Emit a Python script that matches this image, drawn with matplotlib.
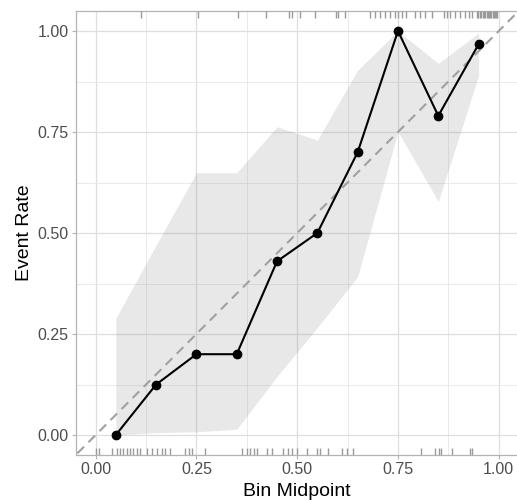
import numpy as np
import matplotlib
matplotlib.use('Agg')
import matplotlib.pyplot as plt
import matplotlib.transforms as mtransforms

plt.rcParams['font.family'] = ['Liberation Sans', 'DejaVu Sans']

# binned calibration data
bin_mid = [0.05, 0.15, 0.25, 0.35, 0.45, 0.55, 0.65, 0.75, 0.85, 0.95]
event_rate = [0.0, 0.125, 0.20, 0.20, 0.43, 0.50, 0.70, 1.0, 0.79, 0.967]
ci_low = [0.0, 0.006, 0.008, 0.014, 0.145, 0.266, 0.392, 0.751, 0.578, 0.89]
ci_high = [0.289, 0.47, 0.649, 0.649, 0.763, 0.730, 0.903, 1.0, 0.92, 0.995]

# predicted probabilities of observations with outcome 1 (top rug) and 0 (bottom rug)
events = [0.112, 0.255, 0.352, 0.423, 0.479, 0.488, 0.507, 0.544, 0.596, 0.602,
          0.619, 0.681, 0.693, 0.705, 0.718, 0.730, 0.743, 0.750, 0.759, 0.770,
          0.792, 0.805, 0.817, 0.834, 0.863, 0.871, 0.879, 0.891, 0.904, 0.916,
          0.925, 0.933, 0.945, 0.949, 0.953, 0.956, 0.960, 0.963, 0.967, 0.970,
          0.973, 0.976, 0.979, 0.982, 0.985, 0.988, 0.991, 0.994, 0.996]
non_events = [0.001, 0.008, 0.040, 0.053, 0.060, 0.068, 0.078, 0.085, 0.093, 0.102,
              0.110, 0.127, 0.140, 0.152, 0.165, 0.172, 0.184, 0.222, 0.232, 0.239,
              0.271, 0.363, 0.375, 0.383, 0.393, 0.400, 0.425, 0.437, 0.465, 0.477,
              0.487, 0.500, 0.524, 0.549, 0.557, 0.577, 0.611, 0.623, 0.638, 0.807,
              0.842, 0.852, 0.857, 0.884, 0.929, 0.934]

ticks = [0.0, 0.25, 0.5, 0.75, 1.0]
tick_labels = ['0.00', '0.25', '0.50', '0.75', '1.00']

fig = plt.figure(figsize=(5.17, 5.0), dpi=100)
# panel runs a bit past the right edge of the image, as in the reference
ax = fig.add_axes([75.5 / 517, 1 - 455.2 / 500, 443.4 / 517, 444.4 / 500])

ax.set_xlim(-0.05, 1.05)
ax.set_ylim(-0.05, 1.05)

# grid (theme_light look)
ax.set_xticks(ticks)
ax.set_yticks(ticks)
ax.set_xticks([0.125, 0.375, 0.625, 0.875], minor=True)
ax.set_yticks([0.125, 0.375, 0.625, 0.875], minor=True)
ax.grid(True, which='major', color='#dedede', lw=0.9)
ax.grid(True, which='minor', color='#e6e6e6', lw=0.6)
ax.set_axisbelow(True)

ax.fill_between(bin_mid, ci_low, ci_high, color='#8c8c8c', alpha=0.2, lw=0, zorder=2)
ax.plot([-0.1, 1.1], [-0.1, 1.1], color='#a0a0a0', lw=1.5, ls=(0, (4.5, 3)), zorder=3)
ax.plot(bin_mid, event_rate, color='black', lw=1.5, zorder=4)
ax.scatter(bin_mid, event_rate, s=36, color='black', zorder=5)

# rugs
trans = mtransforms.blended_transform_factory(ax.transData, ax.transAxes)
rug_len = 7 / 444.4
ax.vlines(events, 1 - rug_len, 1, transform=trans, color='#9a9a9a', lw=1.0, zorder=3)
ax.vlines(non_events, 0, rug_len, transform=trans, color='#9a9a9a', lw=1.0, zorder=3)

ax.set_xticklabels(tick_labels)
ax.set_yticklabels(tick_labels)
ax.tick_params(which='major', length=3, width=0.8, color='#b3b3b3',
               labelsize=11.5, labelcolor='#4d4d4d', pad=2)
ax.tick_params(which='minor', length=0)
for s in ax.spines.values():
    s.set_color('#b3b3b3')
    s.set_linewidth(0.9)

ax.set_xlabel('Bin Midpoint', fontsize=14, color='black', labelpad=4)
ax.set_ylabel('Event Rate', fontsize=14, color='black', labelpad=3)

fig.savefig('out.png', dpi=100)
